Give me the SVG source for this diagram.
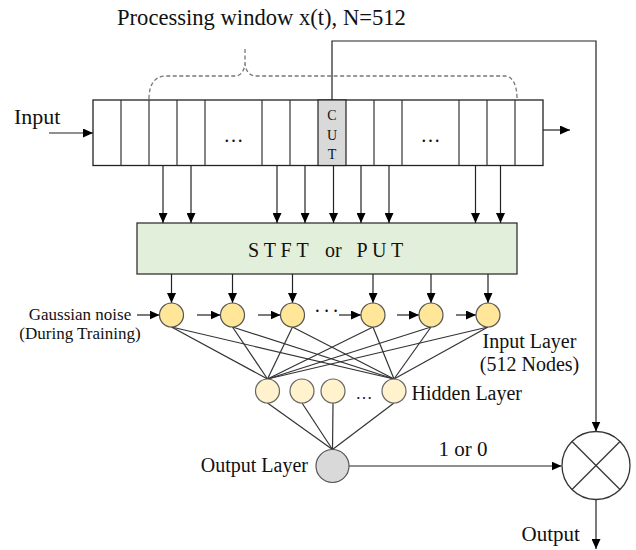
<svg xmlns="http://www.w3.org/2000/svg" width="636" height="550" viewBox="0 0 636 550">
  <defs>
    <marker id="arrow" markerUnits="userSpaceOnUse" markerWidth="10" markerHeight="9" refX="10" refY="4.5" orient="auto">
      <path d="M0,0 L10,4.5 L0,9 z" fill="#000"/>
    </marker>
    <style>
      text { font-family: "Liberation Serif", "Times New Roman", serif; fill: #111; }
      .ln { stroke: #333; stroke-width: 1.2; fill: none; }
      .arr { stroke: #222; stroke-width: 1.2; fill: none; marker-end: url(#arrow); }
      .div { stroke: #333; stroke-width: 1.2; }
      .frame { fill: #fff; stroke: #222; stroke-width: 1.3; }
      .brace { fill: none; stroke: #777; stroke-width: 1.3; stroke-dasharray: 4 2.5; }
      .in { fill: #FFE699; stroke: #555; stroke-width: 1.2; }
      .hid { fill: #FFF2CC; stroke: #666; stroke-width: 1.2; }
      .out { fill: #D9D9D9; stroke: #555; stroke-width: 1.2; }
    </style>
  </defs>

  <rect width="636" height="550" fill="#fff"/>

  <!-- title and window brace -->
  <g id="window">
    <text x="117" y="25" font-size="22.6">Processing window x(t), N=512</text>
    <path class="brace" d="M149,99 C149,84 155,76 166,76 L235,76 C241,76 245,70 245,62 M245,49 L245,62 C245,70 249,76 256,76 L505,76 C512,76 517,84 517,99"/>
  </g>

  <!-- input shift register -->
  <g id="register">
    <rect class="frame" x="93" y="100" width="450" height="65.5"/>
    <rect x="318" y="100" width="28" height="65.5" fill="#D9D9D9" stroke="#222" stroke-width="1.2"/>
    <g class="div">
      <line x1="121" y1="100" x2="121" y2="165.5"/>
      <line x1="149" y1="100" x2="149" y2="165.5"/>
      <line x1="177" y1="100" x2="177" y2="165.5"/>
      <line x1="205" y1="100" x2="205" y2="165.5"/>
      <line x1="262" y1="100" x2="262" y2="165.5"/>
      <line x1="290" y1="100" x2="290" y2="165.5"/>
      <line x1="374" y1="100" x2="374" y2="165.5"/>
      <line x1="402" y1="100" x2="402" y2="165.5"/>
      <line x1="459" y1="100" x2="459" y2="165.5"/>
      <line x1="487" y1="100" x2="487" y2="165.5"/>
      <line x1="515" y1="100" x2="515" y2="165.5"/>
    </g>
    <text x="233.5" y="142" font-size="20" text-anchor="middle">…</text>
    <text x="430.5" y="142" font-size="20" text-anchor="middle">…</text>
    <g font-size="14" text-anchor="middle">
      <text x="332" y="120">C</text>
      <text x="332" y="139.5">U</text>
      <text x="332" y="158.5">T</text>
    </g>
    <text x="14" y="124" font-size="22">Input</text>
  </g>

  <!-- transform block -->
  <g id="transform">
    <rect x="137" y="223" width="380" height="51" fill="#E2EFDA" stroke="#333" stroke-width="1.3"/>
    <text y="257" font-size="20"><tspan x="248">S T F T</tspan><tspan x="325">or</tspan><tspan x="356.5">P U T</tspan></text>
  </g>

  <!-- connectors -->
  <g id="connectors">
    <!-- register in/out -->
    <line class="arr" x1="49" y1="133" x2="93" y2="133"/>
    <line class="arr" x1="543" y1="130" x2="570" y2="130"/>
    <!-- CUT tap to multiplier -->
    <path class="arr" d="M332,100 L332,41 L596,41 L596,431.5"/>
    <!-- register cells to transform -->
    <line class="arr" x1="163" y1="165.5" x2="163" y2="223"/>
    <line class="arr" x1="191" y1="165.5" x2="191" y2="223"/>
    <line class="arr" x1="277" y1="165.5" x2="277" y2="223"/>
    <line class="arr" x1="305" y1="165.5" x2="305" y2="223"/>
    <line class="arr" x1="333.5" y1="165.5" x2="333.5" y2="223"/>
    <line class="arr" x1="361" y1="165.5" x2="361" y2="223"/>
    <line class="arr" x1="389" y1="165.5" x2="389" y2="223"/>
    <line class="arr" x1="475.5" y1="165.5" x2="475.5" y2="223"/>
    <line class="arr" x1="500.5" y1="165.5" x2="500.5" y2="223"/>
    <!-- transform to input layer -->
    <line class="arr" x1="171.5" y1="274" x2="171.5" y2="303"/>
    <line class="arr" x1="232.5" y1="274" x2="232.5" y2="303"/>
    <line class="arr" x1="292.5" y1="274" x2="292.5" y2="303"/>
    <line class="arr" x1="373" y1="274" x2="373" y2="303"/>
    <line class="arr" x1="431" y1="274" x2="431" y2="303"/>
    <line class="arr" x1="488" y1="274" x2="488" y2="303"/>
    <!-- noise injection arrows -->
    <line class="arr" x1="137" y1="315" x2="159.5" y2="315"/>
    <line class="arr" x1="197" y1="315" x2="220.5" y2="315"/>
    <line class="arr" x1="258" y1="315" x2="280.5" y2="315"/>
    <line class="arr" x1="339" y1="315" x2="361" y2="315"/>
    <line class="arr" x1="397" y1="315" x2="419" y2="315"/>
    <line class="arr" x1="456" y1="315" x2="476" y2="315"/>
    <!-- input layer to hidden layer -->
    <g class="ln">
      <line x1="171.5" y1="327" x2="267.5" y2="379"/>
      <line x1="171.5" y1="327" x2="394" y2="379"/>
      <line x1="232.5" y1="327" x2="267.5" y2="379"/>
      <line x1="232.5" y1="327" x2="394" y2="379"/>
      <line x1="292.5" y1="327" x2="267.5" y2="379"/>
      <line x1="292.5" y1="327" x2="394" y2="379"/>
      <line x1="373" y1="327" x2="267.5" y2="379"/>
      <line x1="373" y1="327" x2="394" y2="379"/>
      <line x1="431" y1="327" x2="267.5" y2="379"/>
      <line x1="431" y1="327" x2="394" y2="379"/>
      <line x1="488" y1="327" x2="267.5" y2="379"/>
      <line x1="488" y1="327" x2="394" y2="379"/>
      <!-- hidden layer to output node -->
      <line x1="267.5" y1="403" x2="332.5" y2="449.5"/>
      <line x1="302" y1="403" x2="332.5" y2="449.5"/>
      <line x1="333" y1="403" x2="332.5" y2="449.5"/>
      <line x1="394" y1="403" x2="332.5" y2="449.5"/>
    </g>
    <!-- decision to multiplier, multiplier to output -->
    <line class="arr" x1="349" y1="466" x2="561.5" y2="466"/>
    <line class="arr" x1="596" y1="499.5" x2="596" y2="549"/>
  </g>

  <!-- input layer -->
  <g id="input-layer">
    <circle class="in" cx="171.5" cy="315" r="12"/>
    <circle class="in" cx="232.5" cy="315" r="12"/>
    <circle class="in" cx="292.5" cy="315" r="12"/>
    <circle class="in" cx="373" cy="315" r="12"/>
    <circle class="in" cx="431" cy="315" r="12"/>
    <circle class="in" cx="488" cy="315" r="12"/>
    <text x="314" y="318" font-size="20" letter-spacing="2.5">···</text>
    <text x="529.5" y="348" font-size="20" text-anchor="middle">Input Layer</text>
    <text x="529.5" y="371" font-size="20" text-anchor="middle">(512 Nodes)</text>
  </g>

  <g id="noise-label" font-size="17" text-anchor="middle">
    <text x="80" y="320">Gaussian noise</text>
    <text x="80" y="339">(During Training)</text>
  </g>

  <!-- hidden layer -->
  <g id="hidden-layer">
    <circle class="hid" cx="267.5" cy="391" r="12"/>
    <circle class="hid" cx="302" cy="391" r="12"/>
    <circle class="hid" cx="333" cy="391" r="12"/>
    <circle class="hid" cx="394" cy="391" r="12"/>
    <text x="364" y="399" font-size="17" text-anchor="middle">…</text>
    <text x="411.5" y="400" font-size="20">Hidden Layer</text>
  </g>

  <!-- output node -->
  <g id="output-layer">
    <circle class="out" cx="332.5" cy="466" r="16.5"/>
    <text x="308" y="472" font-size="20" text-anchor="end">Output Layer</text>
    <text x="463" y="456" font-size="21" text-anchor="middle">1 or 0</text>
  </g>

  <!-- multiplier -->
  <g id="multiplier">
    <circle cx="596" cy="465.5" r="34" fill="#fff" stroke="#333" stroke-width="1.3"/>
    <line class="ln" x1="572" y1="441.5" x2="620" y2="489.5"/>
    <line class="ln" x1="620" y1="441.5" x2="572" y2="489.5"/>
    <text x="521.5" y="541" font-size="21">Output</text>
  </g>
</svg>
